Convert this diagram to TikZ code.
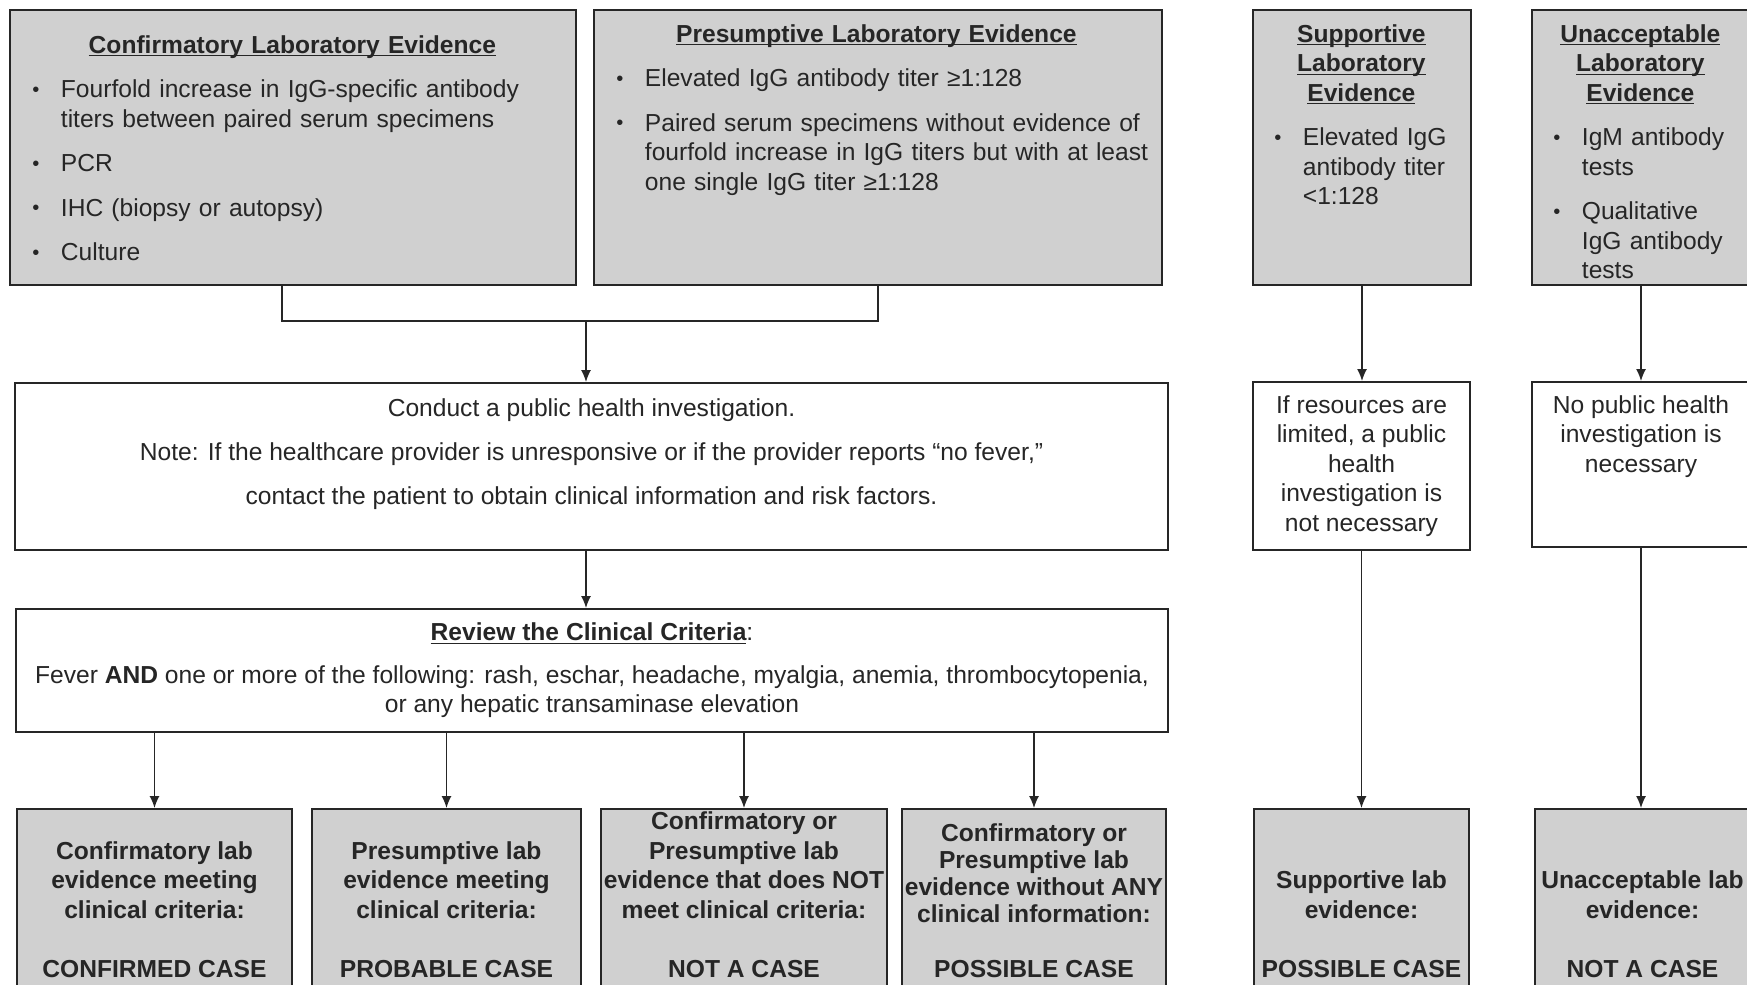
\documentclass[tikz,border=0pt]{standalone}
\usepackage{fontspec}
\setmainfont{Liberation Sans}
\usetikzlibrary{arrows.meta,positioning}

\definecolor{labgray}{RGB}{208,208,208}
\definecolor{ink}{RGB}{38,38,38}

\newcommand{\undl}[1]{\underline{\smash{#1}}\vphantom{#1}}
\newcommand{\labhead}[1]{{\centering\bfseries #1\par}}
\newcommand{\labitem}[1]{\par\vspace{8.5pt}\hangindent=0.57cm\hangafter=1\noindent
  \makebox[0.57cm][l]{\raisebox{0.8pt}{\fontsize{11.5}{11.5}\selectfont\textbullet}}#1\par}

\begin{document}
\begin{tikzpicture}[x=0.02cm, y=-0.02cm,
    every node/.style={font=\fontsize{14}{16.8}\selectfont, text=ink},
    labbox/.style={draw=ink, line width=1.1pt, fill=labgray, inner sep=0pt},
    stepbox/.style={draw=ink, line width=1.1pt, fill=white, inner sep=0pt},
    labtxt/.style={inner sep=0pt, align=left, anchor=north west},
    casetxt/.style={inner sep=0pt, align=center, anchor=south, font=\fontsize{14}{16.8}\selectfont\bfseries},
    line/.style={draw=ink, line width=0.85pt},
    arr/.style={line, -{Latex[length=0.24cm,width=0.2cm]}}]
  \useasboundingbox (0,0) rectangle (1747,984);
  \clip (0,0) rectangle (1747,984);

  % laboratory evidence
  \node[labbox, minimum width=11.32cm, minimum height=5.5cm] (conf) at (293,147.5) {};
  \node[labbox, minimum width=11.36cm, minimum height=5.5cm] (pres) at (878,147.5) {};
  \node[labbox, minimum width=4.36cm, minimum height=5.5cm] (sup) at (1362,147.5) {};
  \node[labbox, minimum width=4.36cm, minimum height=5.5cm] (unacc) at (1641,147.5) {};

  \node[labtxt, text width=10.4cm, below right=0.52cm and 0.46cm of conf.north west] (conftxt) {%
    \labhead{\undl{Confirmatory Laboratory Evidence}}
    \labitem{\mbox{Fourfold increase in IgG-specific antibody}\newline \mbox{titers between paired serum specimens}}
    \labitem{PCR}
    \labitem{IHC (biopsy or autopsy)}
    \labitem{Culture}};
  \node[labtxt, text width=10.4cm, below right=0.3cm and 0.46cm of pres.north west] (prestxt) {%
    \labhead{\undl{Presumptive Laboratory Evidence}}
    \labitem{Elevated IgG antibody titer ≥1:128}
    \labitem{\mbox{Paired serum specimens without evidence of}\newline
      \mbox{fourfold increase in IgG titers but with at least}\newline
      \mbox{one single IgG titer ≥1:128}}};
  \node[labtxt, text width=3.48cm, below right=0.3cm and 0.44cm of sup.north west] (suptxt) {%
    \labhead{\undl{Supportive}\\\undl{Laboratory}\\\undl{Evidence}}
    \labitem{Elevated IgG\newline antibody titer\newline <1:128}};
  \node[labtxt, text width=3.48cm, below right=0.3cm and 0.44cm of unacc.north west] (unacctxt) {%
    \labhead{\undl{Unacceptable}\\\undl{Laboratory}\\\undl{Evidence}}
    \labitem{IgM antibody\newline tests}
    \labitem{Qualitative\newline IgG antibody\newline tests}};

  % investigation and clinical criteria
  \node[stepbox, minimum width=23.06cm, minimum height=3.34cm] (inv) at (591.5,466.5) {};
  \node[inner sep=0pt, align=center, font=\fontsize{14}{25}\selectfont, below=0.32cm of inv.north] (invtxt)
    {Conduct a public health investigation.\\
     Note: If the healthcare provider is unresponsive or if the provider reports “no fever,”\\
     contact the patient to obtain clinical information and risk factors.};
  \node[stepbox, minimum width=23.04cm, minimum height=2.46cm, align=center] (rev) at (592,670.5)
    {\textbf{\undl{Review the Clinical Criteria}}:\\[0.26cm]
     Fever \textbf{AND} one or more of the following: rash, eschar, headache, myalgia, anemia, thrombocytopenia,\\
     or any hepatic transaminase elevation};
  \node[stepbox, minimum width=4.34cm, minimum height=3.36cm, align=center] (supnote) at (1361.5,466)
    {If resources are\\limited, a public\\health\\investigation is\\not necessary};
  \node[stepbox, minimum width=4.36cm, minimum height=3.3cm] (unnote) at (1641,464.5) {};
  \node[inner sep=0pt, align=center, below=0.28cm of unnote.north] (unnotetxt)
    {No public health\\investigation is\\necessary};

  % case classification
  \node[labbox, minimum width=5.5cm, minimum height=4.02cm] (b1) at (154.5,909.5) {};
  \node[labbox, minimum width=5.38cm, minimum height=4.02cm] (b2) at (446.5,909.5) {};
  \node[labbox, minimum width=5.72cm, minimum height=4.02cm] (b3) at (744,909.5) {};
  \node[labbox, minimum width=5.28cm, minimum height=4.02cm] (b4) at (1034,909.5) {};
  \node[labbox, minimum width=4.3cm, minimum height=4.02cm] (b5) at (1361.5,909.5) {};
  \node[labbox, minimum width=4.3cm, minimum height=4.02cm] (b6) at (1642.5,909.5) {};

  \node[casetxt] (t1) at ([yshift=-3.4cm]b1.north)
    {Confirmatory lab\\evidence meeting\\clinical criteria:\\[16.8pt]CONFIRMED CASE};
  \node[casetxt] (t2) at ([yshift=-3.4cm]b2.north)
    {Presumptive lab\\evidence meeting\\clinical criteria:\\[16.8pt]PROBABLE CASE};
  \node[casetxt] (t3) at ([yshift=-3.4cm]b3.north)
    {Confirmatory or\\Presumptive lab\\evidence that does NOT\\meet clinical criteria:\\[16.8pt]NOT A CASE};
  \node[casetxt, font=\fontsize{14}{15.5}\selectfont\bfseries] (t4) at ([yshift=-3.4cm]b4.north)
    {Confirmatory or\\Presumptive lab\\evidence without ANY\\clinical information:\\[15.5pt]POSSIBLE CASE};
  \node[casetxt] (t5) at ([yshift=-3.4cm]b5.north)
    {Supportive lab\\evidence:\\[16.8pt]POSSIBLE CASE};
  \node[casetxt] (t6) at ([yshift=-3.4cm]b6.north)
    {Unacceptable lab\\evidence:\\[16.8pt]NOT A CASE};

  % connectors
  \draw[line] ([xshift=-0.22cm]conf.south) -- ++(0,35) -| (pres.south);
  \coordinate (join) at (586,320);
  \draw[arr] (join) -- (join |- inv.north);
  \draw[arr] (join |- inv.south) -- (join |- rev.north);
  \foreach \b in {b1,b2,b3,b4}
    \draw[arr] (rev.south -| \b.north) -- (\b.north);
  \draw[arr] (sup.south) -- (sup.south |- supnote.north);
  \draw[arr] (supnote.south) -- (supnote.south |- b5.north);
  \draw[arr] (unacc.south) -- (unacc.south |- unnote.north);
  \draw[arr] (unnote.south) -- (unnote.south |- b6.north);
\end{tikzpicture}
\end{document}
